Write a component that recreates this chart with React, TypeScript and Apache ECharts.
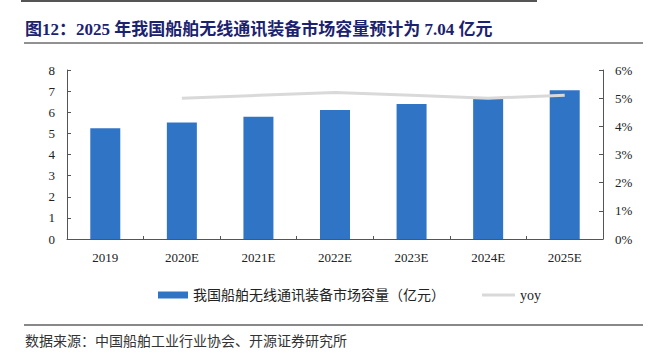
import React, { useEffect, useRef } from "react";
import * as echarts from "echarts";

const categories = ["2019", "2020E", "2021E", "2022E", "2023E", "2024E", "2025E"];
const marketSize = [5.24, 5.51, 5.79, 6.11, 6.39, 6.69, 7.04];
const yoy = [null, 5.0, 5.1, 5.2, 5.1, 5.0, 5.1];
const leftTicks = { min: 0, max: 8, interval: 1 };
const rightTicks = { min: 0, max: 6, interval: 1 };
const barName = "我国船舶无线通讯装备市场容量（亿元）";
const lineName = "yoy";
const titleText = "图12：2025 年我国船舶无线通讯装备市场容量预计为 7.04 亿元";
const sourceText = "数据来源：中国船舶工业行业协会、开源证券研究所";

const SERIF = "'Liberation Serif', 'Times New Roman', 'Noto Sans CJK SC', serif";

export default function App() {
  const ref = useRef<HTMLDivElement>(null);
  useEffect(() => {
    if (!ref.current) return;
    const chart = echarts.init(ref.current, undefined, { renderer: "svg" });
    chart.setOption({
      animation: false,
      backgroundColor: "#ffffff",
      grid: { left: 67, right: 46, top: 70, bottom: 114, containLabel: false },
      legend: [
        {
          left: 153,
          top: 283,
          itemWidth: 30,
          itemHeight: 7,
          textStyle: { fontFamily: SERIF, fontSize: 14, color: "#222" },
          data: [{ name: barName, icon: "rect" }],
        },
        {
          left: 477,
          top: 283,
          itemWidth: 33,
          itemHeight: 3,
          itemGap: 4,
          textStyle: { fontFamily: SERIF, fontSize: 14, color: "#222" },
          data: [{ name: lineName, icon: "rect", itemStyle: { color: "#D9D9D9" } }],
        },
      ],
      xAxis: {
        type: "category",
        data: categories,
        axisLine: { show: true, lineStyle: { color: "#555", width: 1 } },
        axisTick: { show: true, inside: true, length: 3, alignWithLabel: false, lineStyle: { color: "#555" } },
        axisLabel: { fontFamily: SERIF, fontSize: 13, color: "#222", margin: 12 },
      },
      yAxis: [
        {
          type: "value",
          min: leftTicks.min,
          max: leftTicks.max,
          interval: leftTicks.interval,
          axisLine: { show: true, lineStyle: { color: "#555" } },
          axisTick: { show: true, inside: true, length: 4, lineStyle: { color: "#555" } },
          splitLine: { show: false },
          axisLabel: { fontFamily: SERIF, fontSize: 13, color: "#222", margin: 12 },
        },
        {
          type: "value",
          position: "right",
          min: rightTicks.min,
          max: rightTicks.max,
          interval: rightTicks.interval,
          axisLine: { show: true, lineStyle: { color: "#555" } },
          axisTick: { show: true, inside: true, length: 4, lineStyle: { color: "#555" } },
          splitLine: { show: false },
          axisLabel: { fontFamily: SERIF, fontSize: 13, color: "#222", margin: 12, formatter: "{value}%" },
        },
      ],
      series: [
        {
          name: barName,
          type: "bar",
          data: marketSize,
          barWidth: 30,
          itemStyle: { color: "#3074C6" },
        },
        {
          name: lineName,
          type: "line",
          yAxisIndex: 1,
          data: yoy,
          showSymbol: false,
          symbol: "none",
          lineStyle: { color: "#D9D9D9", width: 3 },
          itemStyle: { color: "#D9D9D9" },
        },
      ],
      graphic: [
        { type: "line", shape: { x1: 21, y1: 1, x2: 537, y2: 1 }, style: { stroke: "#555", lineWidth: 2 } },
        {
          type: "text",
          left: 25,
          top: 21,
          style: {
            text: titleText,
            fontFamily: SERIF,
            fontSize: 17,
            fontWeight: "bold",
            fill: "#1B2270",
          },
        },
        { type: "line", shape: { x1: 24, y1: 43, x2: 643, y2: 43 }, style: { stroke: "#222", lineWidth: 1 } },
        { type: "line", shape: { x1: 24, y1: 325, x2: 643, y2: 325 }, style: { stroke: "#888", lineWidth: 2 } },
        {
          type: "text",
          left: 25,
          top: 334,
          style: { text: sourceText, fontFamily: SERIF, fontSize: 14, fill: "#333" },
        },
      ],
    });
    return () => chart.dispose();
  }, []);
  return <div ref={ref} style={{ width: 649, height: 353, position: "absolute", left: 0, top: 0 }} />;
}
